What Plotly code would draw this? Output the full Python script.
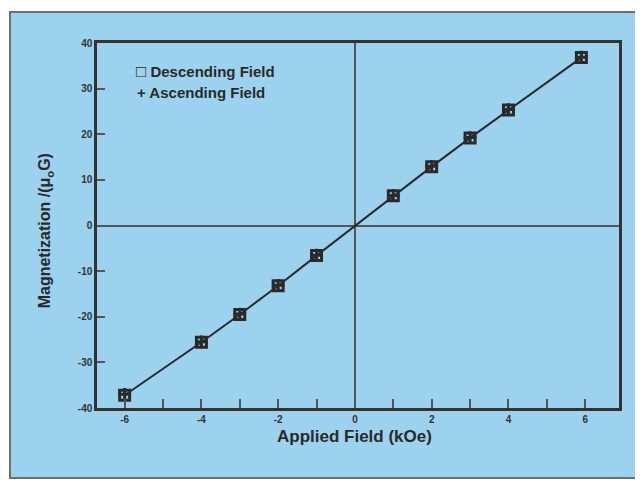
import plotly.graph_objects as go

field = [-6, -4, -3, -2, -1, 1, 2, 3, 4, 5.9]
descending = [-37.2, -25.6, -19.5, -13.2, -6.6, 6.5, 12.9, 19.2, 25.3, 36.8]
ascending = [-37.0, -25.5, -19.4, -13.1, -6.5, 6.6, 13.0, 19.3, 25.4, 36.9]

x_ticks = [-6, -5, -4, -3, -2, -1, 0, 1, 2, 3, 4, 5, 6]
x_labels = ["-6", "", "-4", "", "-2", "", "0", "", "2", "", "4", "", "6"]
y_ticks = [-40, -30, -20, -10, 0, 10, 20, 30, 40]
y_labels = ["-40", "-30", "-20", "-10", "0", "10", "20", "30", "40"]

BG = "#9dd2ef"
INK = "#2a2a2a"
FONT = "Liberation Sans"

fig = go.Figure()
fig.add_trace(go.Scatter(
    x=field, y=descending, mode="lines+markers",
    line=dict(color=INK, width=2),
    marker=dict(symbol="square-open", size=10, color=INK, line=dict(width=3, color=INK)),
    name="Descending Field", showlegend=False))
fig.add_trace(go.Scatter(
    x=field, y=ascending, mode="markers",
    marker=dict(symbol="cross-thin", size=9, color=INK, line=dict(width=3, color=INK)),
    name="Ascending Field", showlegend=False))

# outer panel
fig.add_shape(type="rect", xref="paper", yref="paper",
              x0=-0.1667, x1=1.1, y0=-0.192, y1=1.085,
              fillcolor=BG, line=dict(color="#6a6f73", width=2), layer="below")

tickfont = dict(family=FONT, size=10, color="#333", weight="bold")
fig.update_xaxes(range=[-6.72, 6.88], tickvals=x_ticks, ticktext=x_labels,
                 ticks="inside", ticklen=9, tickwidth=1.5, tickcolor="#555",
                 showline=True, linecolor="#333", linewidth=2.5, mirror=True,
                 showgrid=False, zeroline=True, zerolinecolor="#555", zerolinewidth=1.5,
                 tickfont=tickfont)
fig.update_yaxes(range=[-40, 40], tickvals=y_ticks, ticktext=y_labels,
                 ticks="inside", ticklen=8, tickwidth=1.5, tickcolor="#555",
                 showline=True, linecolor="#333", linewidth=2.5, mirror=True,
                 showgrid=False, zeroline=True, zerolinecolor="#555", zerolinewidth=1.5,
                 tickfont=tickfont)

fig.add_annotation(text="<b>Applied Field (kOe)</b>", xref="paper", yref="paper",
                   x=0.494, y=-0.079, xanchor="center", yanchor="middle", showarrow=False,
                   font=dict(family=FONT, size=17, color=INK))
fig.add_annotation(text="<b>Magnetization /(μ<sub>o</sub>G)</b>", xref="paper", yref="paper",
                   x=-0.097, y=0.485, xanchor="center", yanchor="middle", showarrow=False,
                   textangle=-90, font=dict(family=FONT, size=16, color=INK))
fig.add_annotation(text="<span style='font-size:17px'>□</span><b> Descending Field</b>",
                   xref="paper", yref="paper",
                   x=0.07, y=0.922, xanchor="left", yanchor="middle", showarrow=False,
                   font=dict(family=FONT, size=15, color=INK))
fig.add_annotation(text="<b>+ Ascending Field</b>", xref="paper", yref="paper",
                   x=0.072, y=0.864, xanchor="left", yanchor="middle", showarrow=False,
                   font=dict(family=FONT, size=15, color=INK))

fig.update_layout(width=635, height=473,
                  margin=dict(l=89, r=24, t=35, b=73),
                  paper_bgcolor="white", plot_bgcolor="rgba(0,0,0,0)",
                  font=dict(family=FONT, color=INK))

fig.write_html("out.html")
